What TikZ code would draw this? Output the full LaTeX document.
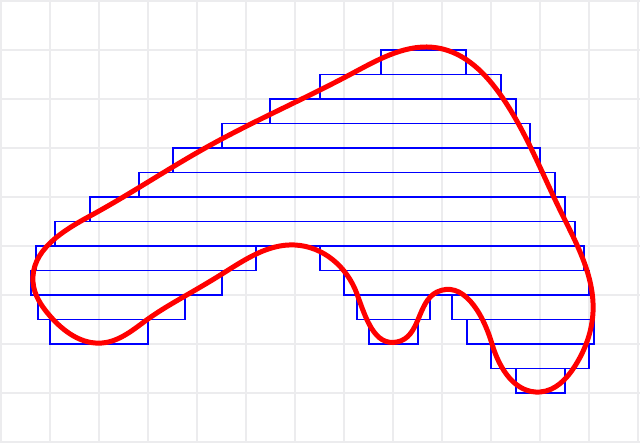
\documentclass[tikz,border=0pt]{standalone}
\usetikzlibrary{hobby}
\definecolor{gridgray}{RGB}{236,236,238}
\begin{document}
\begin{tikzpicture}[x=0.02041cm,y=-0.02041cm,
  gridline/.style={gridgray,line width=0.7pt},
  strip/.style={draw=blue,line width=1.1pt},
  outline/.style={red,line width=2.9pt,line join=round}]
\useasboundingbox (0,0) rectangle (640,443);
\fill[white] (0,0) rectangle (640,443);
% grid
\foreach \k in {0,...,13} {
  \draw[gridline] ({1+49*\k},0) -- ({1+49*\k},443);
}
\foreach \k in {0,...,9} {
  \draw[gridline] (0,{1+49*\k}) -- (640,{1+49*\k});
}
% strips
\foreach \xa/\xb/\ya/\yb in {
  381/466/50/74.5,
  320/501/74.5/99,
  270/516/99/123.5,
  222/530/123.5/148,
  173/540/148/172.5,
  139/555/172.5/197,
  90/565/197/221.5,
  55/575/221.5/246,
  36/256/246/270.5, 320/584/246/270.5,
  31/222/270.5/295, 344/589/270.5/295,
  38/185/295/319.5, 357/430/295/319.5, 452/594/295/319.5,
  50/148/319.5/344, 369/418/319.5/344, 467/594/319.5/344,
  491/589/344/368.5,
  516/565/368.5/393} {
  \draw[strip] (\xa,\ya) rectangle (\xb,\yb);
}
% outline curve
\draw[outline, use Hobby shortcut, closed=true]
  (438,48) .. (502,97) .. (560,210) .. (593,312) .. (575,366) .. (540,392) ..
  (492,344) .. (437,292) .. (397,342) .. (357,294) .. (295,245) .. (222,274) ..
  (185,296) .. (148,319) .. (102,343) .. (50,316) .. (33,282) .. (90,216) ..
  (207,147) .. (353,73);
\end{tikzpicture}
\end{document}
